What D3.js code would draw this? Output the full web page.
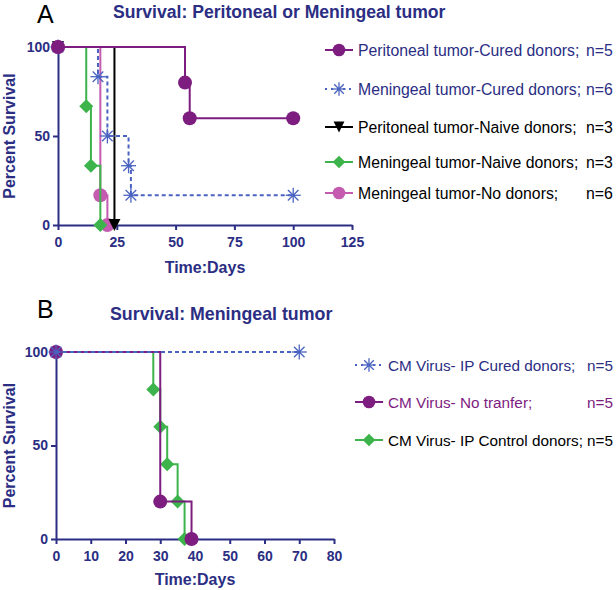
<!DOCTYPE html>
<html><head><meta charset="utf-8">
<script src="https://cdn.jsdelivr.net/npm/d3@7"></script>
<style>
body{margin:0;background:#fff;}
svg{display:block;font-family:"Liberation Sans",Arial,sans-serif;}
</style></head>
<body><svg id="c" width="616" height="590"></svg>
<script>
// ---- Panel A data ----
const aXTicks = [0,25,50,75,100,125];
const aYTicks = [0,50,100];
const aPerCuredT = [0,54,56,100];
const aPerCuredS = [100,80,60,60];
const aMenCuredT = [0,17,21,30,31,100];
const aMenCuredS = [100,83.3,50,33.3,16.7,16.7];
const aPerNaiveT = [0,24];
const aPerNaiveS = [100,0];
const aMenNaiveT = [0,12,14,18];
const aMenNaiveS = [100,66.7,33.3,0];
const aMenNoT = [0,18,21];
const aMenNoS = [100,16.7,0];
const aLabels = ["Peritoneal tumor-Cured donors;","Meningeal tumor-Cured donors;","Peritoneal tumor-Naive donors;","Meningeal tumor-Naive donors;","Meningeal tumor-No donors;"];
const aN = ["n=5","n=6","n=3","n=3","n=6"];
// ---- Panel B data ----
const bXTicks = [0,10,20,30,40,50,60,70,80];
const bYTicks = [0,50,100];
const bCuredT = [0,70];
const bCuredS = [100,100];
const bNoT = [0,30,39];
const bNoS = [100,20,0];
const bCtrlT = [0,28,30,32,35,37];
const bCtrlS = [100,80,60,40,20,0];
const bLabels = ["CM Virus- IP Cured donors;","CM Virus- No tranfer;","CM Virus- IP Control donors;"];
const bN = ["n=5","n=5","n=5"];

const NAVY="#2b2e83", PURPLE="#7d1d7f", BLUE="#4a63c0", GREEN="#3cb44b", PINK="#c45bb0", BLACK="#000";
const svg=d3.select("#c");

function zip(t,s){return t.map((d,i)=>[d,s[i]]);}

function marker(g,type,color,x,y,sc){
  sc=sc||1;
  if(type==="circle"){g.append("circle").attr("cx",x).attr("cy",y).attr("r",7*sc).attr("fill",color);}
  else if(type==="diamond"){const r=7*sc;g.append("path").attr("d",`M${x},${y-r}L${x+r},${y}L${x},${y+r}L${x-r},${y}Z`).attr("fill",color);}
  else if(type==="tri"){const r=6*sc;g.append("path").attr("d",`M${x-r},${y-r}L${x+r},${y-r}L${x},${y+r}Z`).attr("fill",color);}
  else if(type==="star"){
    const r=7.5*sc; const sg=g.append("g").attr("stroke",color).attr("stroke-width",1.3);
    for(let k=0;k<4;k++){const a=k*Math.PI/4; sg.append("line").attr("x1",x-r*Math.cos(a)).attr("y1",y-r*Math.sin(a)).attr("x2",x+r*Math.cos(a)).attr("y2",y+r*Math.sin(a));}
    g.append("circle").attr("cx",x).attr("cy",y).attr("r",1.5).attr("fill",color);
  }
}

function panel(o){
  const x=d3.scaleLinear().domain(o.xd).range(o.xr);
  const y=d3.scaleLinear().domain([0,100]).range(o.yr);
  const g=svg.append("g");
  const xa=g.append("g").attr("transform",`translate(0,${o.yr[0]})`).call(d3.axisBottom(x).tickValues(o.xt).tickSize(5).tickSizeOuter(0).tickFormat(d3.format("d")));
  const ya=g.append("g").attr("transform",`translate(${o.xr[0]},0)`).call(d3.axisLeft(y).tickValues(o.yt).tickSize(5).tickSizeOuter(0));
  [xa,ya].forEach(a=>{a.attr("font-size",14).attr("font-family","Liberation Sans, Arial, sans-serif");
    a.select(".domain").attr("stroke",NAVY).attr("stroke-width",2);
    a.selectAll(".tick line").attr("stroke",NAVY).attr("stroke-width",2);
    a.selectAll(".tick text").attr("fill",NAVY).attr("font-weight","bold");});
  xa.selectAll(".tick text").attr("dy","1em");
  g.append("text").attr("x",(o.xr[0]+o.xr[1])/2).attr("y",o.xtY).attr("text-anchor","middle").attr("fill",NAVY).attr("font-size",16).attr("font-weight","bold").text("Time:Days");
  g.append("text").attr("transform",`translate(${o.ytX},${(o.yr[0]+o.yr[1])/2}) rotate(-90)`).attr("text-anchor","middle").attr("fill",NAVY).attr("font-size",16).attr("font-weight","bold").text("Percent Survival");
  g.append("text").attr("x",o.titleX).attr("y",o.titleY).attr("fill",NAVY).attr("font-size",o.titleSize).attr("font-weight","bold").text(o.title);
  g.append("text").attr("x",o.letterX).attr("y",o.letterY).attr("fill","#000").attr("font-size",25).text(o.letter);
  const line=d3.line().x(d=>x(d[0])).y(d=>y(d[1])).curve(d3.curveStepAfter);
  o.series.forEach(s=>{
    const pts=zip(s.t,s.s);
    g.append("path").attr("d",line(pts)).attr("fill","none").attr("stroke",s.color).attr("stroke-width",2).attr("stroke-dasharray",s.dash?"4,3":null);
    pts.forEach(p=>marker(g,s.type,s.color,x(p[0]),y(p[1])));
  });
  o.series.slice().sort((a,b)=>a.li-b.li).forEach(s=>{
    const ly=o.legY[s.li];
    g.append("line").attr("x1",o.legX).attr("x2",o.legX+28).attr("y1",ly).attr("y2",ly).attr("stroke",s.color).attr("stroke-width",2).attr("stroke-dasharray",s.dash?"2,4":null);
    marker(g,s.type,s.color,o.legX+14,ly,0.9);
    g.append("text").attr("x",o.legX+33).attr("y",ly+5.5).attr("fill",s.tcolor).attr("font-size",o.legSize).text(s.label);
    g.append("text").attr("x",o.nX).attr("y",ly+5.5).attr("fill",s.tcolor).attr("font-size",o.legSize).text(s.nlabel);
  });
}

panel({xd:[0,125],xr:[58,352],yr:[225,47],xt:aXTicks,yt:aYTicks,xtY:273,ytX:15,
  title:"Survival: Peritoneal or Meningeal tumor",titleX:113,titleY:18,titleSize:17.6,letter:"A",letterX:37,letterY:23,
  legX:325,legY:[50,89,127,162,193],nX:586,legSize:15.8,
  series:[
    {t:aMenNoT,s:aMenNoS,color:PINK,type:"circle",li:4,label:aLabels[4],nlabel:aN[4],tcolor:"#000"},
    {t:aMenNaiveT,s:aMenNaiveS,color:GREEN,type:"diamond",li:3,label:aLabels[3],nlabel:aN[3],tcolor:"#000"},
    {t:aPerNaiveT,s:aPerNaiveS,color:BLACK,type:"tri",li:2,label:aLabels[2],nlabel:aN[2],tcolor:"#000"},
    {t:aMenCuredT,s:aMenCuredS,color:BLUE,type:"star",dash:true,li:1,label:aLabels[1],nlabel:aN[1],tcolor:NAVY},
    {t:aPerCuredT,s:aPerCuredS,color:PURPLE,type:"circle",li:0,label:aLabels[0],nlabel:aN[0],tcolor:NAVY}
  ]});

panel({xd:[0,80],xr:[56,334],yr:[539,352],xt:bXTicks,yt:bYTicks,xtY:585,ytX:15,
  title:"Survival: Meningeal tumor",titleX:110,titleY:320,titleSize:17.8,letter:"B",letterX:37,letterY:318,
  legX:355,legY:[365,402,440],nX:587,legSize:15.3,
  series:[
    {t:bCtrlT,s:bCtrlS,color:GREEN,type:"diamond",li:2,label:bLabels[2],nlabel:bN[2],tcolor:"#000"},
    {t:bNoT,s:bNoS,color:PURPLE,type:"circle",li:1,label:bLabels[1],nlabel:bN[1],tcolor:PURPLE},
    {t:bCuredT,s:bCuredS,color:BLUE,type:"star",dash:true,li:0,label:bLabels[0],nlabel:bN[0],tcolor:NAVY}
  ]});
</script></body></html>
